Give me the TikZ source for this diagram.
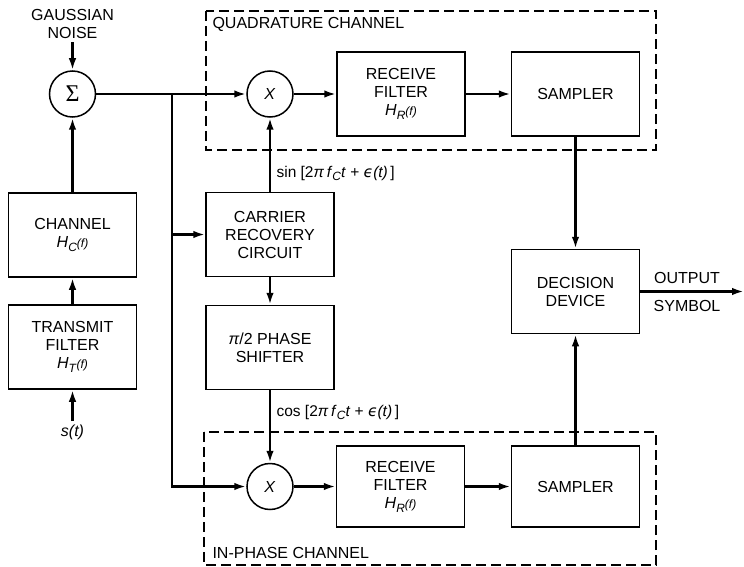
\documentclass[tikz,border=0pt]{standalone}
\usepackage{fontspec}
\setmainfont{Liberation Sans}
\newfontfamily\sigmafont{Liberation Serif}
\newfontfamily\epsfont{DejaVu Sans}
\usetikzlibrary{arrows.meta}

\newcommand{\subsz}{\fontsize{12}{12}\selectfont}
\newcommand{\Hf}[1]{\textit{H}\raisebox{-4pt}{\subsz\textit{#1}}{\subsz\textit{(f)}}}
\newcommand{\carrierarg}[1]{#1 [2\textit{π}\,\textit{f}\raisebox{-3pt}{\subsz\textit{C}}\textit{t} + {\epsfont\itshape ϵ}\textit{(t)}\,]}

\begin{document}
\begin{tikzpicture}[x=1pt,y=-1pt,
  block/.style={draw, line width=1.5pt, minimum width=128pt, minimum height=84pt,
    align=center, font=\fontsize{16}{18}\selectfont},
  mixer/.style={draw, circle, line width=1.5pt, minimum size=46pt, inner sep=0pt,
    font=\fontsize{16}{18}\selectfont},
  conn/.style={line width=2.5pt, -{Latex[length=12pt,width=7.5pt]}},
  chanbox/.style={line width=1.4pt, dash pattern=on 10pt off 5pt},
  lbl/.style={font=\fontsize{16}{18}\selectfont, align=center},
  sig/.style={font=\fontsize{15.5}{17}\selectfont}]
  \useasboundingbox (0,0) rectangle (744,567);

  \draw [chanbox] (206,11) rectangle (656,150);
  \draw [chanbox] (204,432) rectangle (656,565);
  \node [lbl, anchor=west] (qname) at (209,24) {QUADRATURE CHANNEL};
  \node [lbl, anchor=west] (iname) at (209,553) {IN-PHASE CHANNEL};

  \node [lbl] (noise) at (72.5,24) {GAUSSIAN\\NOISE};
  \node [mixer, font=\fontsize{24}{24}\sigmafont] (sum) at (72.5,94) {Σ};
  \node [block] (chan) at (72.5,235) {CHANNEL\\\Hf{C}};
  \node [block] (tx) at (72.5,347) {TRANSMIT\\FILTER\\\Hf{T}};
  \node [lbl] (src) at (72.5,432) {\textit{s(t)}};

  \node [mixer] (qmix) at (270,94) {\textit{X}};
  \node [block] (qfilt) at (401,94) {RECEIVE\\FILTER\\\Hf{R}};
  \node [block] (qsamp) at (575.5,94) {SAMPLER};

  \node [block] (carrier) at (270,234.5) {CARRIER\\RECOVERY\\CIRCUIT};
  \node [block] (shift) at (270,347.5) {\textit{π}/2 PHASE\\SHIFTER};
  \node [block] (dec) at (575.5,291.5) {DECISION\\DEVICE};
  \node [lbl] (outtop) at (687,278) {OUTPUT};
  \node [lbl] (outbot) at (687,306) {SYMBOL};
  \coordinate (out) at (744,291.5);

  \node [mixer] (imix) at (270,486.5) {\textit{X}};
  \node [block, minimum height=81pt] (ifilt) at (400.5,486.5) {RECEIVE\\FILTER\\\Hf{R}};
  \node [block, minimum height=81pt] (isamp) at (575.5,486.5) {SAMPLER};

  \coordinate (split) at (172,94);

  \draw [conn] (noise) -- (sum);
  \draw [conn] (src) -- (tx);
  \draw [conn] (tx) -- (chan);
  \draw [conn] (chan) -- (sum);
  \draw [conn] (sum) -- (qmix);
  \draw [conn] (split) |- (imix);
  \draw [conn] (split |- carrier.west) -- (carrier.west);
  \draw [conn] (qmix) -- (qfilt);
  \draw [conn] (qfilt) -- (qsamp);
  \draw [conn] (qsamp) -- (dec);
  \draw [conn] (carrier) -- node [sig, right, pos=0.25, xshift=2pt] {\carrierarg{sin}} (qmix);
  \draw [conn] (carrier) -- (shift);
  \draw [conn] (shift) -- node [sig, right, pos=0.3, xshift=2pt] {\carrierarg{cos}} (imix);
  \draw [conn] (imix) -- (ifilt);
  \draw [conn] (ifilt) -- (isamp);
  \draw [conn] (isamp) -- (dec);
  \draw [conn] (dec) -- (out);
\end{tikzpicture}
\end{document}
